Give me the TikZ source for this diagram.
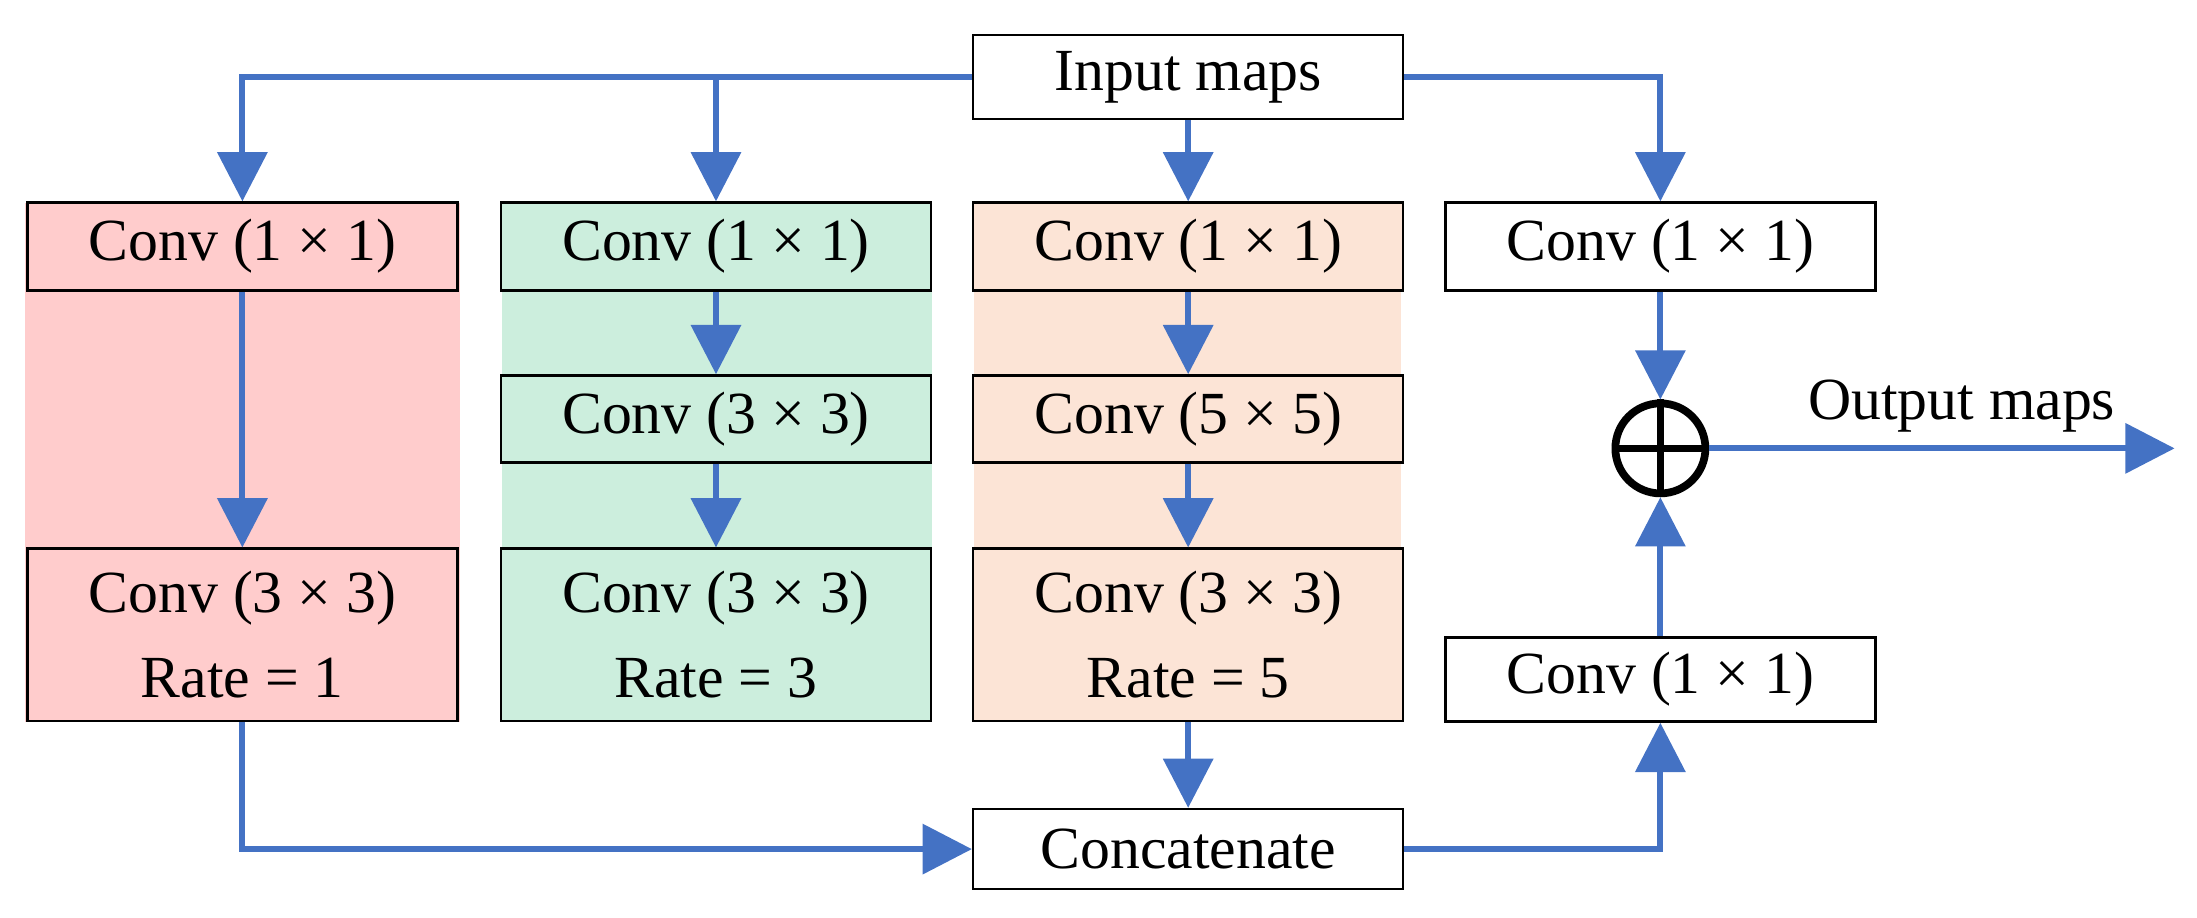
\documentclass[tikz,border=0pt]{standalone}
\usepackage{fontspec}
\setmainfont{Liberation Serif}
\usetikzlibrary{arrows.meta}
\definecolor{pinkc}{HTML}{FFCCCC}
\definecolor{greenc}{HTML}{CCEEDD}
\definecolor{orangec}{HTML}{FCE4D6}
\definecolor{bluec}{HTML}{4472C4}
\begin{document}
\begin{tikzpicture}[x=0.01401cm,y=-0.01401cm,
  box/.style={draw=black,line width=0.7pt,minimum width=4.3cm,align=center,font=\fontsize{17}{24}\selectfont,inner sep=0pt},
  arr/.style={draw=bluec,line width=1.7pt,-{Triangle[length=14pt,width=14pt]}}]
\useasboundingbox (0,0) rectangle (1568,655);
\fill[pinkc] (18,145) rectangle (328,515);
\fill[greenc] (358,145) rectangle (665,515);
\fill[orangec] (695,145) rectangle (1000,515);
\node[box,fill=white,minimum height=0.84cm] (in) at (848,55) {Input maps};
\node[box,fill=pinkc,minimum height=0.88cm] (a1) at (173,176) {Conv (1 × 1)};
\node[box,fill=pinkc,minimum height=1.72cm] (a2) at (173,453) {Conv (3 × 3)\\Rate = 1};
\node[box,fill=greenc,minimum height=0.88cm] (b1) at (511,176) {Conv (1 × 1)};
\node[box,fill=greenc,minimum height=0.87cm] (b2) at (511,299) {Conv (3 × 3)};
\node[box,fill=greenc,minimum height=1.72cm] (b3) at (511,453) {Conv (3 × 3)\\Rate = 3};
\node[box,fill=orangec,minimum height=0.88cm] (c1) at (848,176) {Conv (1 × 1)};
\node[box,fill=orangec,minimum height=0.87cm] (c2) at (848,299) {Conv (5 × 5)};
\node[box,fill=orangec,minimum height=1.72cm] (c3) at (848,453) {Conv (3 × 3)\\Rate = 5};
\node[box,fill=white,minimum height=0.88cm] (d1) at (1185,176) {Conv (1 × 1)};
\node[box,fill=white,minimum height=0.84cm] (d2) at (1185,485) {Conv (1 × 1)};
\node[box,fill=white,minimum height=0.8cm] (cat) at (848,606) {Concatenate};
\node[circle,draw=black,line width=2.2pt,minimum size=0.9cm,inner sep=0pt] (plus) at (1185,320) {};
\draw[line width=2.2pt] (plus.north)--(plus.south) (plus.west)--(plus.east);
\node[font=\fontsize{17}{24}\selectfont] (out) at (1400,290) {Output maps};
\coordinate (o) at (1552,320);
\draw[arr] (in.west) -| (a1.north);
\draw[arr] (in.west -| b1.north) -- (b1.north);
\draw[arr] (in.south) -- (c1.north);
\draw[arr] (in.east) -| (d1.north);
\draw[arr] (a1) -- (a2);
\draw[arr] (b1) -- (b2);
\draw[arr] (b2) -- (b3);
\draw[arr] (c1) -- (c2);
\draw[arr] (c2) -- (c3);
\draw[arr] (c3) -- (cat);
\draw[arr] (a2.south) |- (cat.west);
\draw[arr] (cat.east) -| (d2.south);
\draw[arr] (d2) -- (plus);
\draw[arr] (d1) -- (plus);
\draw[arr] (plus) -- (o);
\end{tikzpicture}
\end{document}
